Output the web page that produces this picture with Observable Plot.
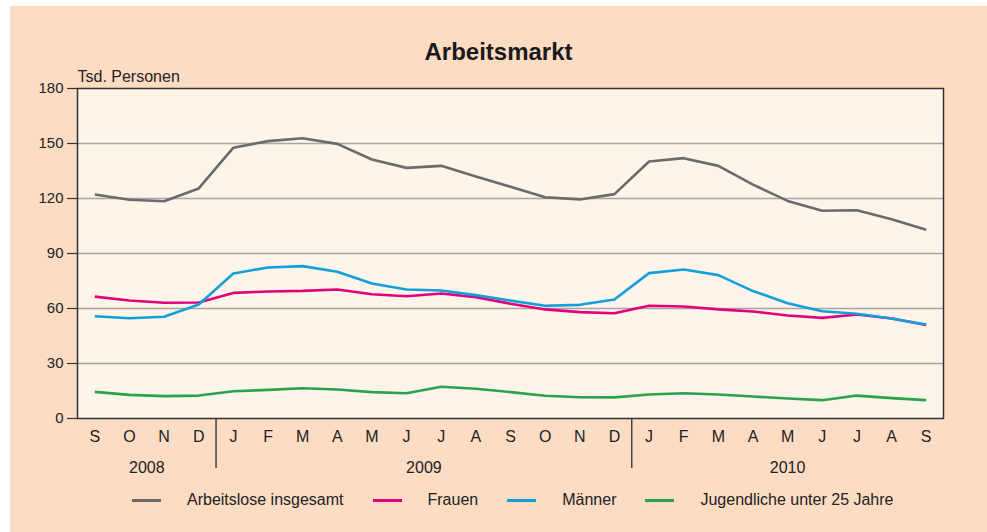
<!DOCTYPE html>
<html>
<head>
<meta charset="utf-8">
<script src="https://cdn.jsdelivr.net/npm/d3@7"></script>
<script src="https://cdn.jsdelivr.net/npm/@observablehq/plot@0.6"></script>
<style>
  html, body { margin: 0; padding: 0; background: #ffffff; }
  body { width: 987px; height: 532px; position: relative; overflow: hidden;
         font-family: "Liberation Sans", Arial, Helvetica, sans-serif; color: #222; }
  #bg { position: absolute; left: 10px; top: 6px; right: 0; bottom: 0; background: #fcdcc3; }
  #title { position: absolute; left: 10px; top: 40px; width: 977px; text-align: center;
           font-size: 24px; line-height: 24px; font-weight: bold; color: #1a1a1a; }
  #chart { position: absolute; left: 0; top: 62px; }
  #legend { position: absolute; left: 132px; top: 490px; display: flex; align-items: center;
            font-size: 16px; line-height: 20px; color: #222; }
  .sw { width: 29px; height: 3px; margin-right: 26px; }
  .lab { margin-right: 29px; white-space: nowrap; }
</style>
</head>
<body>
<div id="bg"></div>
<div id="title">Arbeitsmarkt</div>
<div id="chart"></div>
<div id="legend"></div>
<script>
// ---- data ----
const months = ["S","O","N","D","J","F","M","A","M","J","J","A","S","O","N","D","J","F","M","A","M","J","J","A","S"];
const yearLabels = ["2008", "2009", "2010"];
const monthsPerYear = [4, 12, 9];
const seriesNames = ["Arbeitslose insgesamt", "Frauen", "Männer", "Jugendliche unter 25 Jahre"];
const seriesColors = ["#6b6b6b", "#e3007b", "#129fdc", "#2ba24c"];
const insgesamt = [122.2, 119.3, 118.5, 125.5, 147.7, 151.3, 152.9, 149.8, 141.3, 136.7, 137.8, 132.0, 126.4, 120.7, 119.5, 122.4, 140.2, 142.0, 137.8, 127.6, 118.7, 113.3, 113.6, 108.7, 102.9];
const frauen    = [66.5, 64.4, 63.1, 63.3, 68.5, 69.3, 69.6, 70.4, 67.8, 66.7, 68.2, 66.2, 62.6, 59.5, 58.0, 57.4, 61.5, 61.1, 59.5, 58.4, 56.2, 54.9, 56.7, 54.5, 51.0];
const maenner   = [55.8, 54.7, 55.5, 62.2, 79.1, 82.4, 83.1, 80.0, 73.6, 70.4, 69.8, 67.3, 64.3, 61.5, 62.0, 64.9, 79.3, 81.3, 78.2, 69.5, 62.9, 58.5, 57.1, 54.5, 51.3];
const jugend    = [14.5, 12.9, 12.2, 12.5, 14.9, 15.6, 16.5, 15.8, 14.4, 13.8, 17.3, 16.2, 14.4, 12.4, 11.6, 11.5, 13.1, 13.8, 13.1, 12.0, 10.9, 10.0, 12.5, 11.1, 10.0];
const yTicks = [0, 30, 60, 90, 120, 150, 180];
const yLabel = "Tsd. Personen";

// ---- derived tables ----
const allSeries = [insgesamt, frauen, maenner, jugend];
const rows = [];
allSeries.forEach((vals, s) => vals.forEach((v, i) => rows.push({i, v, s: seriesNames[s]})));
const idx = months.map((_, i) => i);

const years = [];
let start = 0;
monthsPerYear.forEach((n, k) => {
  years.push({label: yearLabels[k], center: start + (n - 1) / 2, start});
  start += n;
});
const separators = years.slice(1).map(y => y.start - 0.5);

const chart = Plot.plot({
  width: 987,
  height: 420,
  marginLeft: 77,
  marginRight: 44,
  marginTop: 26,
  marginBottom: 64,
  style: {background: "transparent", fontFamily: "'Liberation Sans', Arial, sans-serif", color: "#222", overflow: "visible"},
  x: {domain: [-0.5, months.length - 0.5], axis: null},
  y: {domain: [0, 180], axis: null},
  color: {domain: seriesNames, range: seriesColors},
  marks: [
    Plot.frame({fill: "#fdf4ea", stroke: null}),
    Plot.gridY(yTicks.filter(t => t > 0 && t < 180), {stroke: "#a9a5a2", strokeOpacity: 1, strokeWidth: 1.5}),
    Plot.axisY(yTicks, {tickSize: 10, tickPadding: 4, stroke: "#333", strokeWidth: 1.2, fontSize: 15, fill: "#222", label: null}),
    Plot.axisX(idx, {tickSize: 0, tickPadding: 12, tickFormat: i => months[i], fontSize: 16, fill: "#222", label: null}),
    Plot.ruleX(separators, {insetTop: 330, insetBottom: -50, stroke: "#444", strokeWidth: 1.5}),
    Plot.text(years, {x: "center", text: "label", frameAnchor: "bottom", dy: 49, lineAnchor: "middle", fontSize: 16, fill: "#222"}),
    Plot.text([yLabel], {frameAnchor: "top-left", textAnchor: "start", lineAnchor: "bottom", dy: -7, fontSize: 16, fill: "#222"}),
    Plot.line(rows, {x: "i", y: "v", z: "s", stroke: "s", strokeWidth: 2.6, strokeLinejoin: "round", strokeLinecap: "butt"}),
    Plot.frame({stroke: "#333", strokeWidth: 1.5})
  ]
});
document.getElementById("chart").appendChild(chart);

const legend = document.getElementById("legend");
seriesNames.forEach((name, k) => {
  const sw = document.createElement("div");
  sw.className = "sw";
  sw.style.background = seriesColors[k];
  const lab = document.createElement("div");
  lab.className = "lab";
  lab.textContent = name;
  legend.appendChild(sw);
  legend.appendChild(lab);
});
</script>
</body>
</html>
